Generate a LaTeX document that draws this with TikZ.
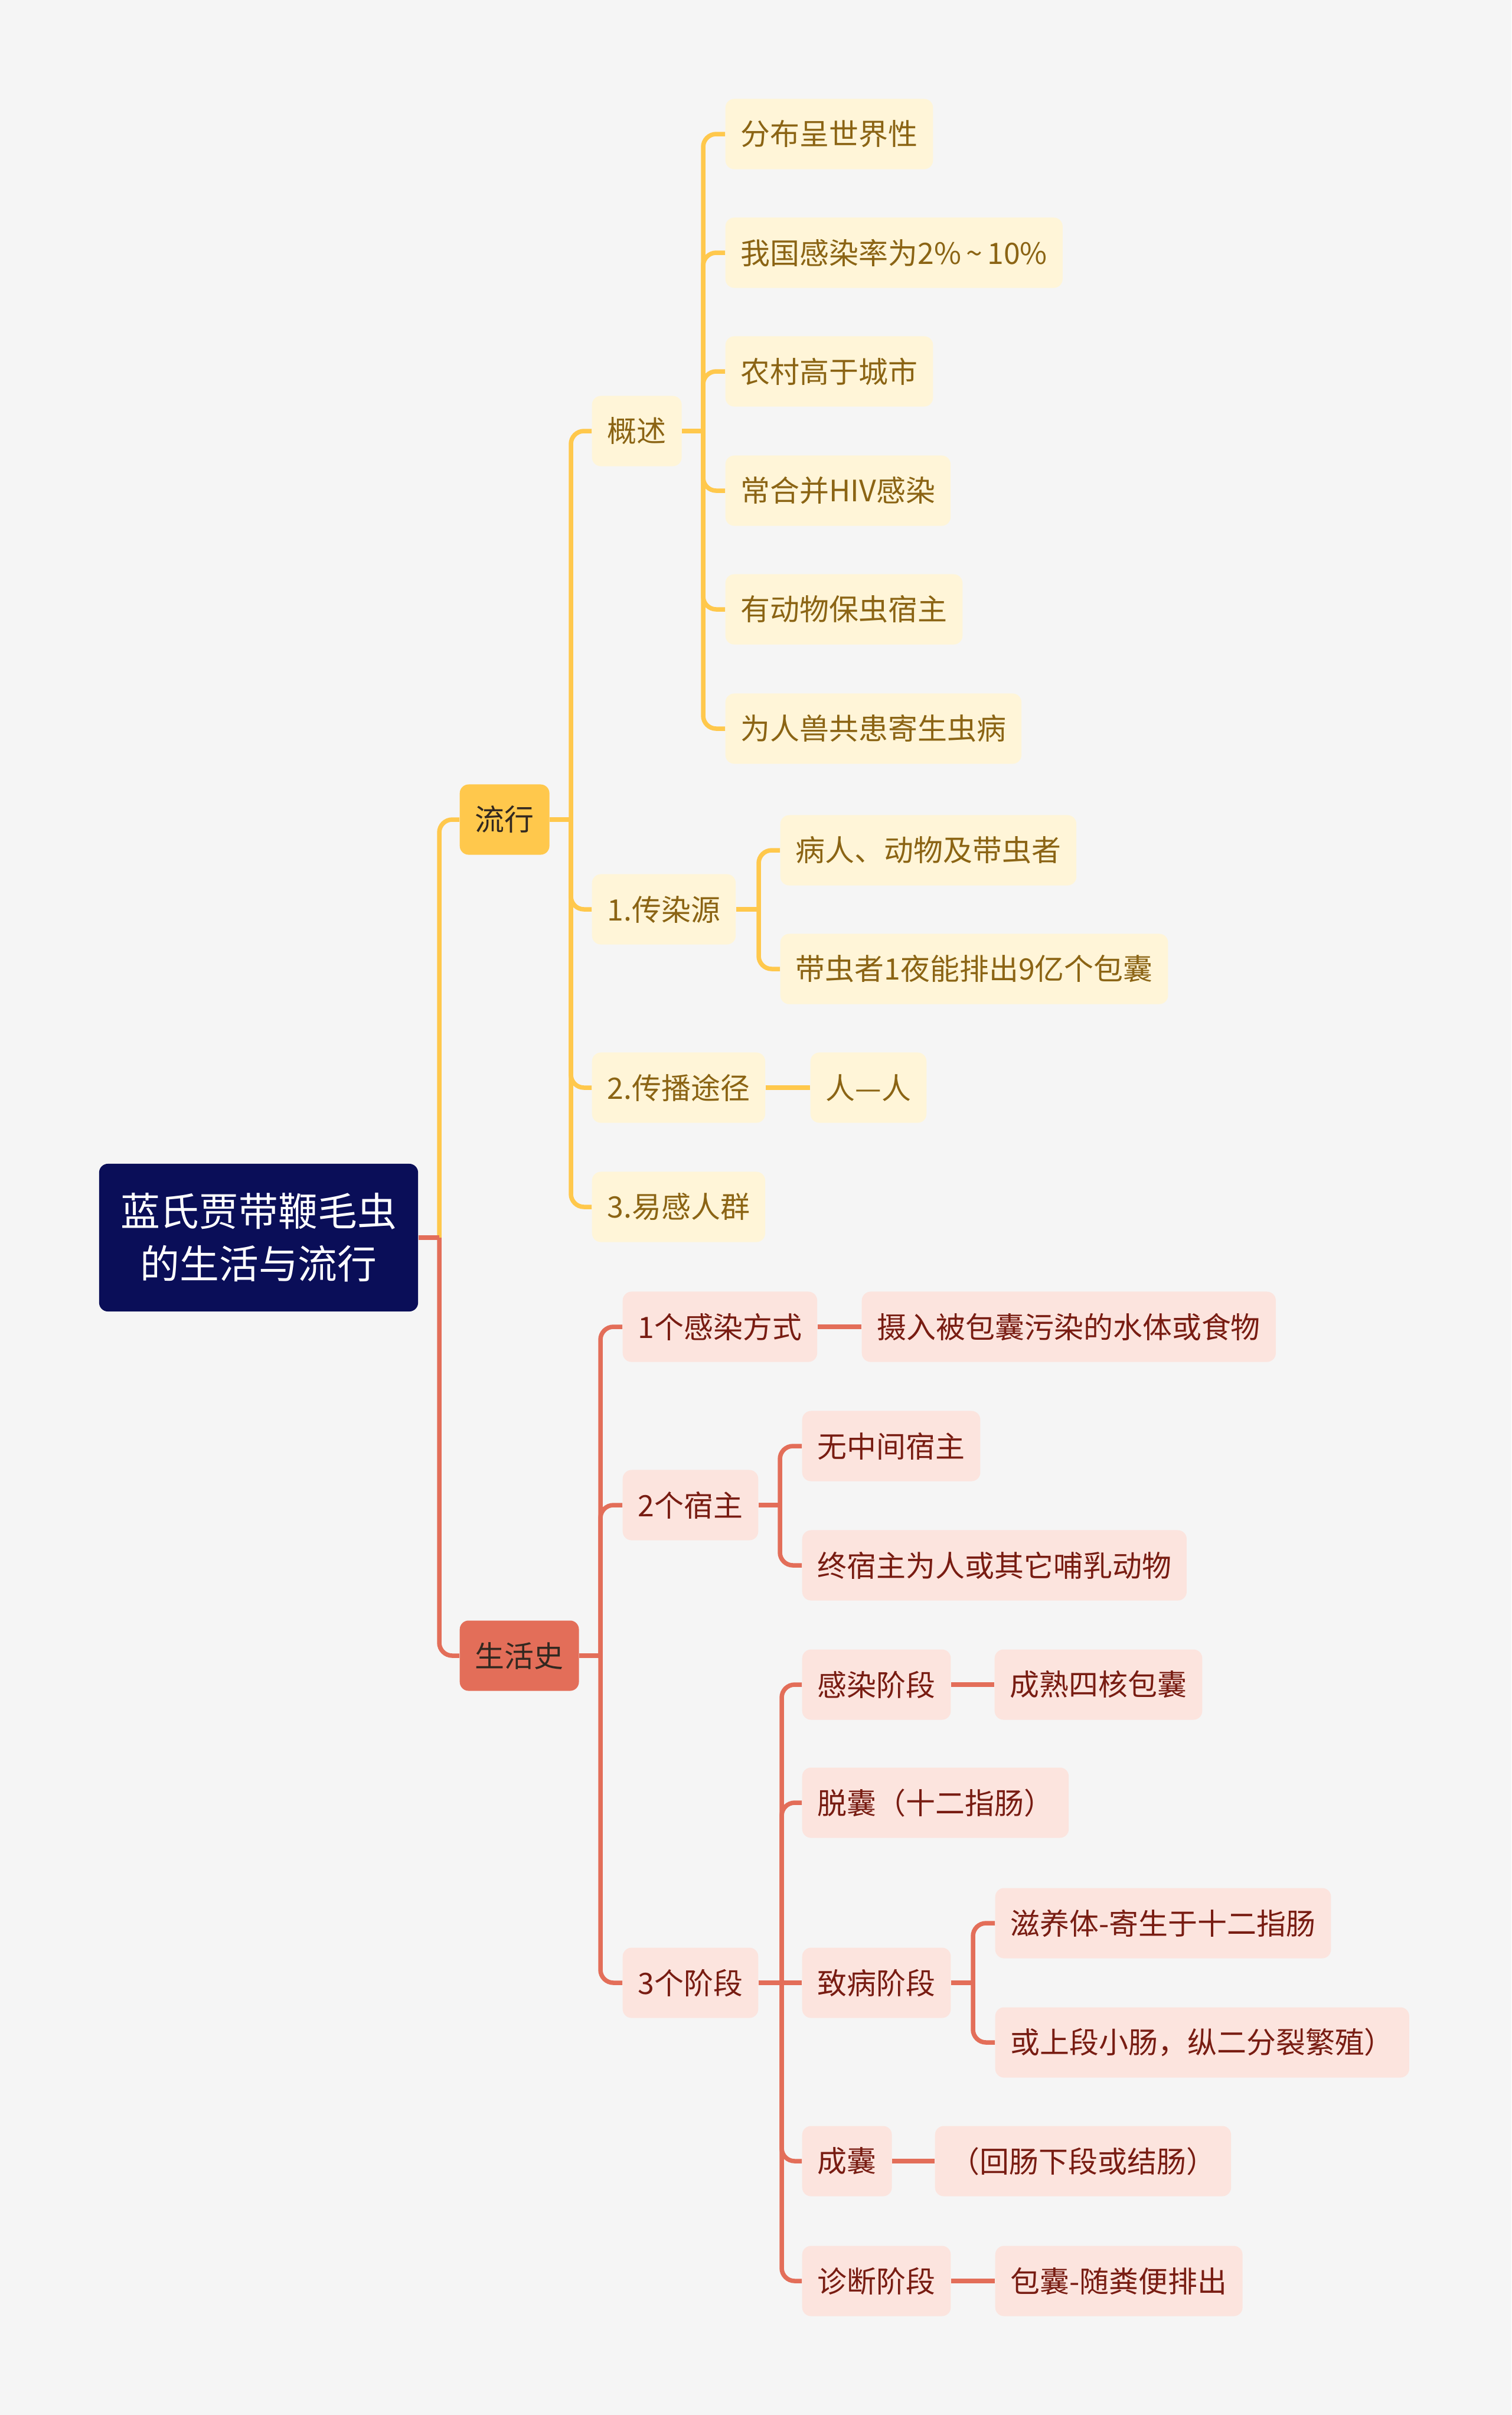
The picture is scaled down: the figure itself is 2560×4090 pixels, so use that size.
\documentclass[tikz,border=0pt]{standalone}
\usepackage{fontspec}
\setmainfont{Noto Sans CJK SC}
\usepackage{xcolor}
\usepackage{tikz}
\definecolor{bgc}{RGB}{245,245,245}
\definecolor{navy}{RGB}{10,14,88}
\definecolor{yel}{RGB}{255,200,76}
\definecolor{ypale}{RGB}{255,245,216}
\definecolor{ytext}{RGB}{139,100,20}
\definecolor{sal}{RGB}{227,110,89}
\definecolor{spale}{RGB}{252,228,222}
\definecolor{stext}{RGB}{120,28,18}
\definecolor{dtext}{RGB}{50,40,32}

\begin{document}
\begin{tikzpicture}[x=0.01cm,y=-0.01cm,
  box/.style={anchor=west, rounded corners=0.15cm, minimum height=1.19cm,
    inner xsep=0.26cm, inner ysep=0pt,
    font=\fontsize{14.2pt}{17pt}\selectfont},
  ymain/.style={box, fill=yel, text=dtext},
  rmain/.style={box, fill=sal, text=dtext},
  ysub/.style={box, fill=ypale, text=ytext},
  rsub/.style={box, fill=spale, text=stext},
  yline/.style={draw=yel, line width=0.075cm, rounded corners=0.22cm},
  rline/.style={draw=sal, line width=0.075cm, rounded corners=0.22cm}]
\useasboundingbox (0,0) rectangle (2560,4090);
\fill[bgc] (0,0) rectangle (2560,4090);
%
\node[fill=navy, text=white, rounded corners=0.15cm, minimum width=5.4cm,
  minimum height=2.5cm, align=center,
  font=\fontsize{19pt}{25.3pt}\selectfont] (R) at (438,2096)
  {蓝氏贾带鞭毛虫\\的生活与流行};
\node[ymain] (L1) at (778,1388) {流行};
\node[rmain] (L2) at (778,2804) {生活史};
%
\node[ysub] (A1) at (1002,730) {概述};
\node[ysub] (A2) at (1002,1540) {1.传染源};
\node[ysub] (A3) at (1002,1842) {2.传播途径};
\node[ysub] (A4) at (1002,2044) {3.易感人群};
\node[ysub] (A11) at (1228,227) {分布呈世界性};
\node[ysub] (A12) at (1228,428) {我国感染率为2\%\,{\char"7E}\,10\%};
\node[ysub] (A13) at (1228,629) {农村高于城市};
\node[ysub] (A14) at (1228,831) {常合并HIV感染};
\node[ysub] (A15) at (1228,1032) {有动物保虫宿主};
\node[ysub] (A16) at (1228,1234) {为人兽共患寄生虫病};
\node[ysub] (A21) at (1321,1440) {病人、动物及带虫者};
\node[ysub] (A22) at (1321,1641) {带虫者1夜能排出9亿个包囊};
\node[ysub] (A31) at (1372,1842) {人—人};
%
\node[rsub] (B1) at (1054,2247) {1个感染方式};
\node[rsub] (B2) at (1054,2549) {2个宿主};
\node[rsub] (B3) at (1054,3358) {3个阶段};
\node[rsub] (B11) at (1459,2247) {摄入被包囊污染的水体或食物};
\node[rsub] (B21) at (1358,2449) {无中间宿主};
\node[rsub] (B22) at (1358,2651) {终宿主为人或其它哺乳动物};
\node[rsub] (B31) at (1358,2853) {感染阶段};
\node[rsub] (B32) at (1358,3053) {脱囊（十二指肠）};
\node[rsub] (B33) at (1358,3358) {致病阶段};
\node[rsub] (B34) at (1358,3660) {成囊};
\node[rsub] (B35) at (1358,3863) {诊断阶段};
\node[rsub] (B311) at (1684,2853) {成熟四核包囊};
\node[rsub] (B331) at (1685,3257) {滋养体-寄生于十二指肠};
\node[rsub] (B332) at (1685,3459) {或上段小肠，纵二分裂繁殖）};
\node[rsub] (B341) at (1583,3660) {（回肠下段或结肠）};
\node[rsub] (B351) at (1685,3863) {包囊-随粪便排出};
%
\coordinate (Ta) at (744,0);
\coordinate (Tb) at (967,0);
\coordinate (Tc) at (1191,0);
\coordinate (Td) at (1285,0);
\coordinate (Te) at (1017,0);
\coordinate (Tf) at (1321,0);
\coordinate (Tg) at (1324,0);
\coordinate (Th) at (1648,0);
%
\draw[yline] (R.east) -- (R.east -| Ta);
\draw[yline] (R.east -| Ta) |- (L1.west);
\draw[yline] (L1.east) -- (L1.east -| Tb);
\foreach \n in {A1,A2,A3,A4}
  \draw[yline] (L1.east -| Tb) |- (\n.west);
\draw[yline] (A1.east) -- (A1.east -| Tc);
\foreach \n in {A11,A12,A13,A14,A15,A16}
  \draw[yline] (A1.east -| Tc) |- (\n.west);
\draw[yline] (A2.east) -- (A2.east -| Td);
\foreach \n in {A21,A22}
  \draw[yline] (A2.east -| Td) |- (\n.west);
\draw[yline] (A3.east) -- (A31.west);
%
\draw[rline] (R.east) -- (R.east -| Ta);
\draw[rline] (R.east -| Ta) |- (L2.west);
\draw[rline] (L2.east) -- (L2.east -| Te);
\foreach \n in {B1,B2,B3}
  \draw[rline] (L2.east -| Te) |- (\n.west);
\draw[rline] (B1.east) -- (B11.west);
\draw[rline] (B2.east) -- (B2.east -| Tf);
\foreach \n in {B21,B22}
  \draw[rline] (B2.east -| Tf) |- (\n.west);
\draw[rline] (B3.east) -- (B33.west);
\foreach \n in {B31,B32,B34,B35}
  \draw[rline] (B3.east -| Tg) |- (\n.west);
\draw[rline] (B31.east) -- (B311.west);
\draw[rline] (B33.east) -- (B33.east -| Th);
\foreach \n in {B331,B332}
  \draw[rline] (B33.east -| Th) |- (\n.west);
\draw[rline] (B34.east) -- (B341.west);
\draw[rline] (B35.east) -- (B351.west);
\end{tikzpicture}
\end{document}
